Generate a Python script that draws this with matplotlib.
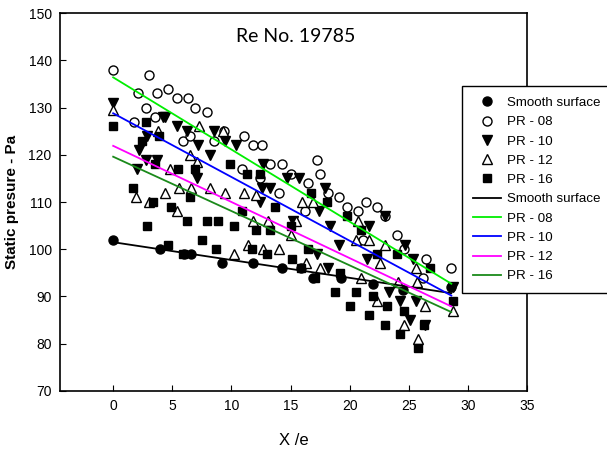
import matplotlib
matplotlib.use("Agg")
import matplotlib.pyplot as plt

plt.rcParams['font.family'] = ['Liberation Sans', 'DejaVu Sans']

smooth_x = [0, 4.0, 6.0, 6.6, 9.2, 11.8, 14.3, 15.9, 16.9, 19.3, 22.0, 24.5, 28.6]
smooth_y = [102, 100, 99, 99, 97, 97, 96, 96, 94, 94, 92.7, 91.3, 92]

pr08_x = [0, 1.8, 2.1, 2.75, 3.0, 3.5, 3.7, 4.6, 5.4, 5.9, 6.3, 6.5, 6.9, 7.9, 8.5,
          9.4, 10.9, 11.1, 11.8, 12.4, 12.6, 13.3, 14.0, 14.3, 15.0, 16.2, 16.5, 17.2,
          17.5, 18.2, 19.1, 19.8, 20.7, 21.1, 21.4, 22.3, 23.0, 24.0, 24.6, 26.2, 26.5, 28.6]
pr08_y = [138, 127, 133, 130, 137, 128, 133, 134, 132, 123, 132, 124, 130, 129, 123,
          125, 117, 124, 122, 115, 122, 118, 112, 118, 116, 108, 114, 119,
          116, 112, 111, 109, 108, 102, 110, 109, 107, 103, 100, 94, 98, 96]

pr10_x = [0, 2.0, 2.2, 2.8, 2.9, 3.7, 4.2, 4.4, 5.4, 6.25, 7.05, 7.2, 8.2, 8.5, 9.45,
          10.4, 12.4, 12.6, 12.7, 13.3, 14.7, 15.2, 15.7, 17.2, 17.4, 17.9, 18.2, 18.3,
          19.1, 21.5, 21.6, 23.0, 23.3, 24.3, 24.7, 25.1, 25.4, 25.6, 26.4, 28.7]
pr10_y = [131, 117, 121, 119, 124, 119, 128, 128, 126, 125, 115, 122, 120, 125, 123,
          122, 110, 113, 118, 113, 115, 106, 115, 99, 108, 113, 96, 105,
          101, 98, 105, 107, 91, 89, 101, 85, 98, 89, 84, 92]

pr12_x = [0, 1.9, 3.0, 3.8, 4.4, 4.8, 5.4, 5.6, 6.5, 6.6, 7.05, 7.3, 8.2, 9.3, 9.5,
          10.2, 11.1, 11.4, 11.8, 12.1, 12.7, 13.1, 14.0, 15.0, 15.5, 16.0, 16.3, 16.9,
          17.5, 20.5, 20.7, 21.0, 21.6, 22.3, 22.6, 23.0, 24.1, 24.6, 25.6, 25.7, 25.8,
          26.4, 28.7]
pr12_y = [129.5, 111, 110, 125, 112, 117, 108, 113, 120, 113, 118.5, 126, 113, 125, 112,
          99, 112, 101, 106, 111.5, 100, 106, 100, 103, 106, 110, 97, 110,
          96, 102, 106, 94, 102, 89, 97, 101, 93, 84, 96, 93, 81,
          88, 87]

pr16_x = [0, 1.7, 2.4, 2.8, 2.9, 3.4, 3.5, 3.9, 4.6, 4.9, 5.5, 5.9, 6.25, 6.5, 6.9,
          7.5, 7.9, 8.7, 8.9, 9.9, 10.2, 10.9, 11.3, 11.7, 12.1, 12.4, 13.0, 13.3, 13.7,
          15.0, 15.1, 15.9, 16.5, 16.7, 17.1, 18.1, 18.8, 19.2, 19.8, 20.0, 20.5, 21.0,
          21.6, 22.0, 22.3, 23.0, 23.2, 24.0, 24.3, 24.6, 25.8, 26.3, 26.8, 28.7]
pr16_y = [126, 113, 123, 127, 105, 110, 118, 124, 101, 109, 117, 99, 106, 111, 117,
          102, 106, 100, 106, 118, 105, 108, 116, 100, 104, 116, 99, 104, 109,
          105, 98, 96, 100, 112, 94, 110, 91, 95, 107, 88, 91, 104,
          86, 90, 99, 84, 88, 99, 82, 87, 79, 84, 96, 89]

# linear fit lines, end points
fit_x = [0, 28.6]
fit_smooth = [101.5, 90.7]
fit_pr08 = [136.4, 92.7]
fit_pr10 = [128.8, 90.2]
fit_pr12 = [121.9, 87.9]
fit_pr16 = [119.6, 86.7]

labels = ['Smooth surface', 'PR - 08', 'PR - 10', 'PR - 12', 'PR - 16']

fig = plt.figure(figsize=(6.07, 4.53), dpi=100)
ax = fig.add_axes([0.0988, 0.137, 0.7694, 0.834])

ms = 6.5
ax.plot(smooth_x, smooth_y, 'o', color='black', ms=ms, label=labels[0])
ax.plot(pr08_x, pr08_y, 'o', mfc='white', mec='black', mew=1, ms=ms, label=labels[1])
ax.plot(pr10_x, pr10_y, 'v', color='black', ms=ms + 0.5, label=labels[2])
ax.plot(pr12_x, pr12_y, '^', mfc='white', mec='black', mew=1, ms=ms + 0.5, label=labels[3])
ax.plot(pr16_x, pr16_y, 's', color='black', ms=ms - 0.5, label=labels[4])

ax.plot(fit_x, fit_smooth, color='black', lw=1.3, label=labels[0])
ax.plot(fit_x, fit_pr08, color='#00ee00', lw=1.3, label=labels[1])
ax.plot(fit_x, fit_pr10, color='#0000ff', lw=1.3, label=labels[2])
ax.plot(fit_x, fit_pr12, color='#ff00ff', lw=1.3, label=labels[3])
ax.plot(fit_x, fit_pr16, color='#1a8a1a', lw=1.3, label=labels[4])

ax.set_xlim(-4.5, 35)
ax.set_ylim(70, 150)
ax.set_xticks(range(0, 36, 5))
ax.set_yticks(range(70, 151, 10))
ax.tick_params(direction='in', length=4, labelsize=10, pad=6)
for s in ax.spines.values():
    s.set_linewidth(1.2)

ax.set_xlabel('X /e', fontsize=12, labelpad=14)
ax.set_ylabel('Static presure - Pa', fontsize=11, fontweight='bold', labelpad=7)

ax.text(0.505, 0.937, 'Re No. 19785', transform=ax.transAxes, fontsize=14,
        family=['Lato', 'DejaVu Sans'], ha='center', va='center')

leg = fig.legend(loc='upper left', bbox_to_anchor=(0.761, 0.81), fontsize=9.6,
                 frameon=True, fancybox=False, edgecolor='black', framealpha=1,
                 labelspacing=0.52, handlelength=2.1, borderpad=0.8,
                 handletextpad=0.5, borderaxespad=0)
leg.get_frame().set_linewidth(1.0)

fig.savefig('out.png', dpi=100)
